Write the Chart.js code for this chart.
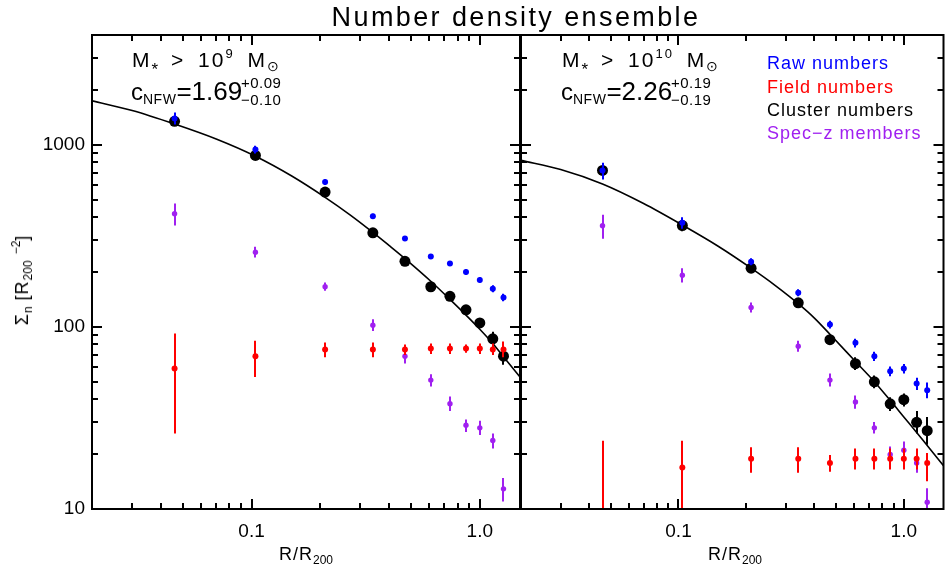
<!DOCTYPE html>
<html>
<head>
<meta charset="utf-8">
<script src="https://cdn.jsdelivr.net/npm/chart.js@4.4.1/dist/chart.umd.min.js"></script>
<style>
	html, body { margin: 0; padding: 0; background: #fff; overflow: hidden; }
	#wrap { position: relative; width: 949px; height: 567px; font-family: "Liberation Sans", Arial, sans-serif; color: #000; }
	canvas { position: absolute; top: 0; }
	#left { left: 0; }
	#right { left: 511px; }
	.txt { position: absolute; white-space: nowrap; line-height: 1; }
	.txt sub, .txt sup { line-height: 0; }
	.ann1 { font-size: 21px; letter-spacing: 2px; word-spacing: 5px; }
	.ann1 sub { font-size: 14px; vertical-align: -4px; }
	.ann1 sub.star { font-size: 17px; vertical-align: -8px; letter-spacing: 0; }
	.ann1 sup { font-size: 13px; vertical-align: 9px; }
	.ann2 { font-size: 26px; }
	.ann2 .c { font-size: 24px; }
	.ann2 sub.nfw { font-size: 14px; vertical-align: -4px; letter-spacing: 0.5px; }
	.stack { position: absolute; font-size: 15px; line-height: 1; letter-spacing: 0.5px; }
	.leg { font-size: 18px; letter-spacing: 1px; }
	.axt { font-size: 18px; letter-spacing: 1px; }
	.axt sub { font-size: 12px; vertical-align: -4px; letter-spacing: 0; }
	.axt sup { font-size: 12px; vertical-align: 8px; letter-spacing: 0; }
</style>
</head>
<body>
<div id="wrap">
	<canvas id="left" width="530" height="567"></canvas>
	<canvas id="right" width="438" height="567"></canvas>

	<div class="txt" style="left:0; width:1032px; text-align:center; top:4px; font-size:27px; letter-spacing:2.4px;">Number density ensemble</div>

	<div class="txt ann1" style="left:132px; top:49px;">M<sub class="star">*</sub> &gt; 10<sup>9</sup> M<sub>⊙</sub></div>
	<div class="txt ann2" style="left:131px; top:78px;"><span class="c">c</span><sub class="nfw">NFW</sub>=1.69</div>
	<div class="stack" style="left:241px; top:75px;">+0.09</div>
	<div class="stack" style="left:241px; top:92px;">−0.10</div>

	<div class="txt ann1" style="left:562px; top:49px;">M<sub class="star">*</sub> &gt; 10<sup>10</sup> M<sub>⊙</sub></div>
	<div class="txt ann2" style="left:561px; top:78px;"><span class="c">c</span><sub class="nfw">NFW</sub>=2.26</div>
	<div class="stack" style="left:671px; top:75px;">+0.19</div>
	<div class="stack" style="left:671px; top:92px;">−0.19</div>

	<div class="txt leg" style="left:767px; top:54px; color:#0000ff;">Raw numbers</div>
	<div class="txt leg" style="left:767px; top:78px; color:#ff0000;">Field numbers</div>
	<div class="txt leg" style="left:767px; top:101px; color:#000;">Cluster numbers</div>
	<div class="txt leg" style="left:767px; top:124px; color:#a020f0;">Spec−z members</div>

	<div class="txt axt" style="left:22px; top:280px; transform:translate(-50%,-50%) rotate(-90deg);">Σ<sub>n</sub> [R<sub>200</sub> <sup>−2</sup>]</div>
	<div class="txt axt" style="left:306px; top:545px; transform:translateX(-50%);">R/R<sub>200</sub></div>
	<div class="txt axt" style="left:735px; top:545px; transform:translateX(-50%);">R/R<sub>200</sub></div>
</div>
<script>
const xBins = [0.046, 0.104, 0.21, 0.34, 0.47, 0.61, 0.74, 0.87, 1.0, 1.14, 1.27];

// M* > 1e9
const raw9 = [1390, 942, 623, 405, 305, 243, 223, 200, 181, 162, 145];
const raw9Lo = [1290, 895, 600, 392, 296, 236, 216, 193, 175, 155, 138];
const raw9Hi = [1500, 985, 646, 418, 314, 250, 230, 207, 187, 169, 152];
const field9 = [59, 69, 75, 75, 75, 76, 76, 76, 76, 75, 75];
const field9Lo = [26, 53, 68, 68, 70, 71, 71, 72, 71, 70, 68];
const field9Hi = [92, 84, 82, 82, 80, 81, 81, 80, 81, 81, 83];
const clus9 = [1343, 873, 549, 328, 229, 166, 147, 124, 105, 86, 69];
const clus9Lo = [1280, 840, 530, 316, 221, 160, 142, 119, 100, 79, 62];
const clus9Hi = [1410, 905, 570, 340, 237, 172, 152, 129, 110, 94, 77];
const spec9 = [418, 257, 166, 102, 69, 51, 37.8, 28.8, 27.9, 23.8, 12.9];
const spec9Lo = [360, 240, 158, 95, 63, 47, 34.5, 26.5, 25.5, 21.5, 11];
const spec9Hi = [475, 275, 175, 110, 75, 55, 41.5, 31, 30.5, 26, 14.8];

// M* > 1e10
const raw10 = [722, 373, 228, 154, 103, 81.7, 69, 57, 59, 48.8, 44.9];
const raw10Lo = [644, 345, 218, 147, 98, 77, 65, 53.5, 55.5, 45, 40.5];
const raw10Hi = [796, 400, 238, 161, 108, 86, 73, 60.5, 62.5, 52.5, 49.5];
const field10 = [5, 16.9, 18.9, 18.9, 17.9, 18.9, 18.9, 18.9, 18.9, 18.9, 17.9];
const field10Lo = [1, 1, 15.8, 15.8, 16, 16.5, 16.5, 16.5, 16.5, 16.5, 14.2];
const field10Hi = [23.7, 23.7, 21.8, 21.8, 19.8, 21.5, 21.5, 21.5, 21.5, 21.5, 20.3];
const clus10 = [722, 360, 210, 135.5, 85, 62.8, 49.9, 37.8, 39.8, 29.9, 26.9];
const clus10Lo = [660, 335, 198, 128, 80, 58, 46, 34.5, 36.5, 26, 22.5];
const clus10Hi = [790, 385, 222, 143, 91, 68, 54, 41, 43, 34.5, 32];
const spec10 = [359, 192, 127.7, 78.2, 51, 38.7, 27.9, 19.9, 21, 17.9, 10.9];
const spec10Lo = [304, 175, 120, 73, 47, 35.5, 26, 18.3, 19, 15.8, 9.5];
const spec10Hi = [412, 210, 136, 84, 55.5, 42, 30, 22, 23.5, 20, 13];

// NFW fits
const nfwX = [0.02, 0.03, 0.046, 0.07, 0.104, 0.15, 0.21, 0.27, 0.34, 0.4, 0.47, 0.61, 0.74, 0.87, 1.0, 1.14, 1.27, 1.5];
const nfw9 = [1740, 1540, 1298, 1074, 864, 673, 514, 412, 330, 280, 237, 178, 141.5, 116, 97, 81, 68.5, 53];
const nfw10 = [820, 730, 608, 475, 362, 277, 210, 168, 134, 112, 91, 64.5, 50, 39.5, 32, 26.3, 22.3, 17.3];

const xMajor = [0.1, 1];
const xTickLabels = ['0.1', '1.0'];
const xMinor = [0.02, 0.03, 0.04, 0.05, 0.06, 0.07, 0.08, 0.09, 0.2, 0.3, 0.4, 0.5, 0.6, 0.7, 0.8, 0.9];
const yMajor = [10, 100, 1000];
const yTickLabels = ['10', '100', '1000'];
const yMinor = [20, 30, 40, 50, 60, 70, 80, 90, 200, 300, 400, 500, 600, 700, 800, 900, 2000, 3000];

const BLUE = '#0000ff';
const RED = '#ff0000';
const PURPLE = '#a020f0';

const pts = (ys) => xBins.map((x, i) => ({ x, y: ys[i] }));

// vertical error bars, drawn just under each dataset's markers
const errorBars = {
	id: 'errorBars',
	beforeDatasetDraw(chart, args) {
		const ds = chart.data.datasets[args.index];
		if (!ds.errLo) return;
		const { ctx, chartArea: a, scales } = chart;
		ctx.save();
		ctx.beginPath();
		ctx.rect(a.left, a.top, a.right - a.left, a.bottom - a.top);
		ctx.clip();
		ctx.strokeStyle = ds.backgroundColor;
		ctx.lineWidth = 2;
		ds.data.forEach((p, i) => {
			const x = Math.round(scales.x.getPixelForValue(p.x));
			ctx.beginPath();
			ctx.moveTo(x, scales.y.getPixelForValue(ds.errLo[i]));
			ctx.lineTo(x, scales.y.getPixelForValue(ds.errHi[i]));
			ctx.stroke();
		});
		ctx.restore();
	}
};

// box round the plot with inward ticks on all four sides
const frame = {
	id: 'frame',
	afterDatasetsDraw(chart) {
		const { ctx, chartArea: a, scales } = chart;
		ctx.save();
		ctx.strokeStyle = '#000';
		ctx.lineWidth = 2;
		ctx.beginPath();
		const tx = (v, len) => {
			const x = Math.round(scales.x.getPixelForValue(v));
			ctx.moveTo(x, a.bottom); ctx.lineTo(x, a.bottom - len);
			ctx.moveTo(x, a.top); ctx.lineTo(x, a.top + len);
		};
		const ty = (v, len) => {
			const y = Math.round(scales.y.getPixelForValue(v));
			ctx.moveTo(a.left, y); ctx.lineTo(a.left + len, y);
			ctx.moveTo(a.right, y); ctx.lineTo(a.right - len, y);
		};
		xMajor.forEach(v => tx(v, 10));
		xMinor.forEach(v => tx(v, 6));
		yMajor.forEach(v => ty(v, 10));
		yMinor.forEach(v => ty(v, 6));
		ctx.stroke();
		ctx.strokeRect(a.left, a.top, a.right - a.left, a.bottom - a.top);
		ctx.restore();
	}
};

const tickFont = { family: 'Liberation Sans', size: 19 };

const makeChart = (id, d, opt) => new Chart(document.getElementById(id), {
	type: 'scatter',
	data: {
		datasets: [
			{ data: pts(d.raw), errLo: d.rawLo, errHi: d.rawHi, backgroundColor: BLUE, borderWidth: 0, pointRadius: 3 },
			{ data: pts(d.field), errLo: d.fieldLo, errHi: d.fieldHi, backgroundColor: RED, borderWidth: 0, pointRadius: 3 },
			{ data: pts(d.spec), errLo: d.specLo, errHi: d.specHi, backgroundColor: PURPLE, borderWidth: 0, pointRadius: 2.7 },
			{ data: pts(d.clus), errLo: d.clusLo, errHi: d.clusHi, backgroundColor: '#000', borderWidth: 0, pointRadius: 5.5 },
			{
				type: 'line',
				data: nfwX.map((x, i) => ({ x, y: d.nfw[i] })),
				borderColor: '#000', borderWidth: 1.6, pointRadius: 0,
				cubicInterpolationMode: 'monotone', fill: false
			}
		]
	},
	options: {
		responsive: false,
		animation: false,
		events: [],
		clip: 0,
		layout: { padding: { top: 35, right: opt.padRight, left: 0, bottom: 0 } },
		plugins: { legend: { display: false }, tooltip: { enabled: false } },
		scales: {
			x: {
				type: 'logarithmic', min: 0.02, max: 1.5,
				grid: { display: false, drawTicks: false }, border: { display: false },
				afterBuildTicks: (s) => { s.ticks = xMajor.map(value => ({ value })); },
				afterFit: (s) => { s.height = 58; },
				ticks: {
					callback: (v, i) => xTickLabels[i],
					font: tickFont, color: '#000', padding: 11, maxRotation: 0, autoSkip: false
				}
			},
			y: {
				type: 'logarithmic', min: 10, max: 4000,
				grid: { display: false, drawTicks: false }, border: { display: false },
				afterBuildTicks: (s) => { s.ticks = yMajor.map(value => ({ value })); },
				afterFit: (s) => { s.width = opt.yWidth; },
				ticks: {
					display: opt.showY,
					callback: (v, i) => yTickLabels[i],
					font: tickFont, color: '#000', padding: 7, autoSkip: false
				}
			}
		}
	},
	plugins: [errorBars, frame]
});

makeChart('left', {
	raw: raw9, rawLo: raw9Lo, rawHi: raw9Hi,
	field: field9, fieldLo: field9Lo, fieldHi: field9Hi,
	clus: clus9, clusLo: clus9Lo, clusHi: clus9Hi,
	spec: spec9, specLo: spec9Lo, specHi: spec9Hi,
	nfw: nfw9
}, { padRight: 10, yWidth: 92, showY: true });

makeChart('right', {
	raw: raw10, rawLo: raw10Lo, rawHi: raw10Hi,
	field: field10, fieldLo: field10Lo, fieldHi: field10Hi,
	clus: clus10, clusLo: clus10Lo, clusHi: clus10Hi,
	spec: spec10, specLo: spec10Lo, specHi: spec10Hi,
	nfw: nfw10
}, { padRight: 0, yWidth: 10, showY: false });
</script>
</body>
</html>
